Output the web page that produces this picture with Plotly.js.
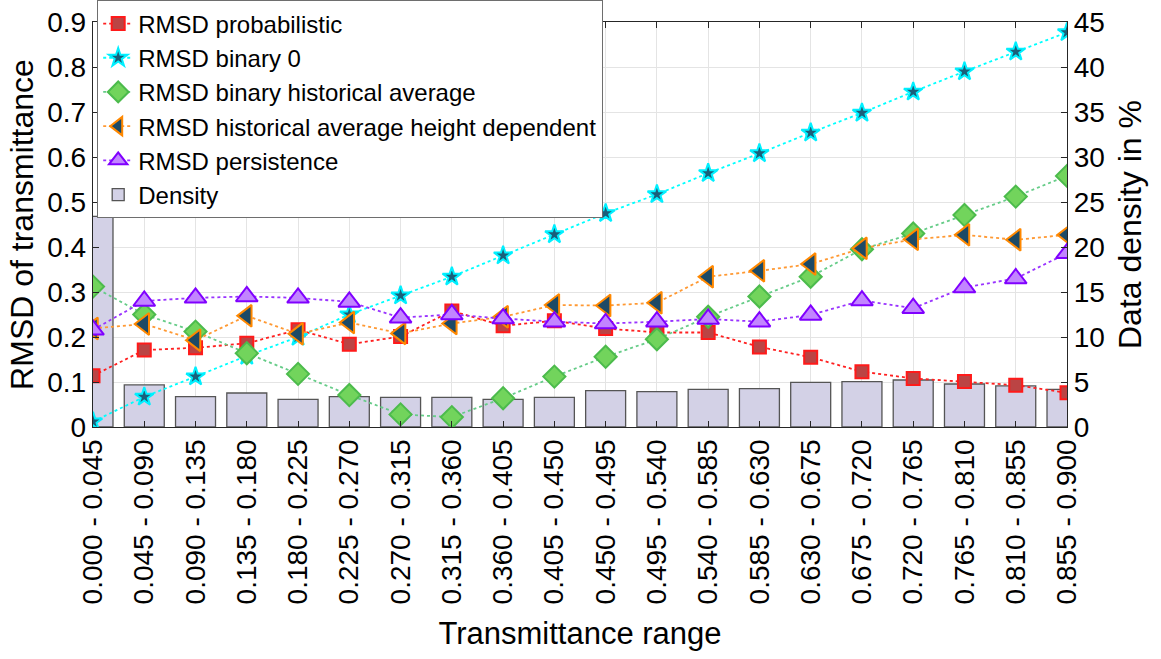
<!DOCTYPE html>
<html>
<head>
<meta charset="utf-8">
<script src="https://cdn.plot.ly/plotly-3.0.1.min.js"></script>
<style>html,body{margin:0;padding:0;background:#fff;}#chart{width:1161px;height:659px;}</style>
</head>
<body>
<div id="chart"></div>
<script>
const categories = [
  "0.000 - 0.045","0.045 - 0.090","0.090 - 0.135","0.135 - 0.180","0.180 - 0.225",
  "0.225 - 0.270","0.270 - 0.315","0.315 - 0.360","0.360 - 0.405","0.405 - 0.450",
  "0.450 - 0.495","0.495 - 0.540","0.540 - 0.585","0.585 - 0.630","0.630 - 0.675",
  "0.675 - 0.720","0.720 - 0.765","0.765 - 0.810","0.810 - 0.855","0.855 - 0.900"
];
const rmsdProbabilistic = [0.114,0.171,0.176,0.186,0.216,0.184,0.201,0.258,0.225,0.236,0.219,0.210,0.210,0.178,0.155,0.123,0.108,0.101,0.093,0.076];
const rmsdBinary0 = [0.012,0.067,0.112,0.158,0.200,0.250,0.292,0.334,0.381,0.428,0.475,0.517,0.564,0.608,0.654,0.698,0.745,0.790,0.834,0.877];
const rmsdBinaryHistAvg = [0.312,0.250,0.212,0.164,0.118,0.071,0.028,0.022,0.064,0.112,0.156,0.195,0.245,0.290,0.334,0.395,0.430,0.471,0.512,0.558];
const rmsdHistAvgHeight = [0.219,0.229,0.193,0.247,0.207,0.232,0.208,0.230,0.245,0.271,0.270,0.276,0.334,0.347,0.362,0.397,0.417,0.427,0.416,0.427];
const rmsdPersistence = [0.216,0.280,0.287,0.290,0.287,0.278,0.243,0.250,0.241,0.234,0.230,0.234,0.240,0.234,0.249,0.281,0.264,0.310,0.330,0.386];
const densityPercent = [23.4,4.67,3.37,3.78,3.07,3.37,3.30,3.30,3.07,3.30,4.04,3.93,4.19,4.26,4.96,5.04,5.22,4.78,4.56,4.19];
const rmsdTicks = [0,0.1,0.2,0.3,0.4,0.5,0.6,0.7,0.8,0.9];
const rmsdTickLabels = ["0","0.1","0.2","0.3","0.4","0.5","0.6","0.7","0.8","0.9"];
const densityTicks = [0,5,10,15,20,25,30,35,40,45];

const FONT = "Liberation Sans, Arial, sans-serif";
const AX = "#262626";

function line(name, y, lineColor, symbol, size, face, edge) {
  return {
    type: "scatter", mode: "lines+markers", name: name,
    x: categories, y: y, xaxis: "x", yaxis: "y2",
    line: {color: lineColor, width: 1.8, dash: "dot"},
    marker: {symbol: symbol, size: size, color: face, line: {color: edge, width: 2}}
  };
}

const traces = [
  line("RMSD probabilistic", rmsdProbabilistic, "#ff2020", "square", 13, "#bb4444", "#ff1a1a"),
  line("RMSD binary 0", rmsdBinary0, "#00ffff", "star", 14, "#1a5f7a", "#00f0ff"),
  line("RMSD binary historical average", rmsdBinaryHistAvg, "#66cc88", "diamond", 17, "#72d45c", "#4cbb4c"),
  line("RMSD historical average height dependent", rmsdHistAvgHeight, "#ff9933", "triangle-left", 19, "#1d4a66", "#ff8800"),
  line("RMSD persistence", rmsdPersistence, "#9933ff", "triangle-up", 19, "#c285ff", "#8000ff"),
  {
    type: "bar", name: "Density", x: categories, y: densityPercent,
    xaxis: "x", yaxis: "y", width: 0.78,
    marker: {color: "#d3d1e6", line: {color: "#555555", width: 1.3}}
  }
];

const layout = {
  width: 1161, height: 659,
  margin: {l: 93, r: 94, t: 22, b: 232, autoexpand: false},
  paper_bgcolor: "#ffffff", plot_bgcolor: "#ffffff",
  font: {family: FONT, color: "#000000", size: 26},
  showlegend: true,
  legend: {
    x: 0.004, y: 1.054, xanchor: "left", yanchor: "top",
    bgcolor: "#ffffff", bordercolor: "#6e6e6e", borderwidth: 1.3,
    font: {family: FONT, size: 24, color: "#000000"},
    traceorder: "normal", itemwidth: 30, tracegroupgap: 0
  },
  xaxis: {
    type: "category", range: [0, 19],
    tickangle: -90, tickfont: {family: FONT, size: 28, color: "#000"},
    ticks: "inside", ticklen: 6, tickcolor: AX,
    showline: true, linecolor: AX, linewidth: 1.2, mirror: "ticks",
    showgrid: true, gridcolor: "#e4e4e4", gridwidth: 1,
    zeroline: false,
    title: {text: "Transmittance range", font: {family: FONT, size: 31, color: "#000"}, standoff: 18}
  },
  yaxis: {
    side: "right", range: [0, 45], tickvals: densityTicks,
    tickfont: {family: FONT, size: 28, color: "#000"},
    ticks: "inside", ticklen: 6, tickcolor: AX,
    showline: true, linecolor: AX, linewidth: 1.2,
    showgrid: false, zeroline: false,
    title: {text: "Data density in %", font: {family: FONT, size: 32, color: "#000"}, standoff: 14}
  },
  yaxis2: {
    overlaying: "y", side: "left", range: [0, 0.9],
    tickvals: rmsdTicks, ticktext: rmsdTickLabels,
    tickfont: {family: FONT, size: 28, color: "#000"},
    ticks: "inside", ticklen: 6, tickcolor: AX,
    showline: true, linecolor: AX, linewidth: 1.2,
    showgrid: true, gridcolor: "#e4e4e4", gridwidth: 1, zeroline: false,
    title: {text: "RMSD of transmittance", font: {family: FONT, size: 32, color: "#000"}, standoff: 4}
  }
};

Plotly.newPlot("chart", traces, layout, {displayModeBar: false, staticPlot: true});
</script>
</body>
</html>
